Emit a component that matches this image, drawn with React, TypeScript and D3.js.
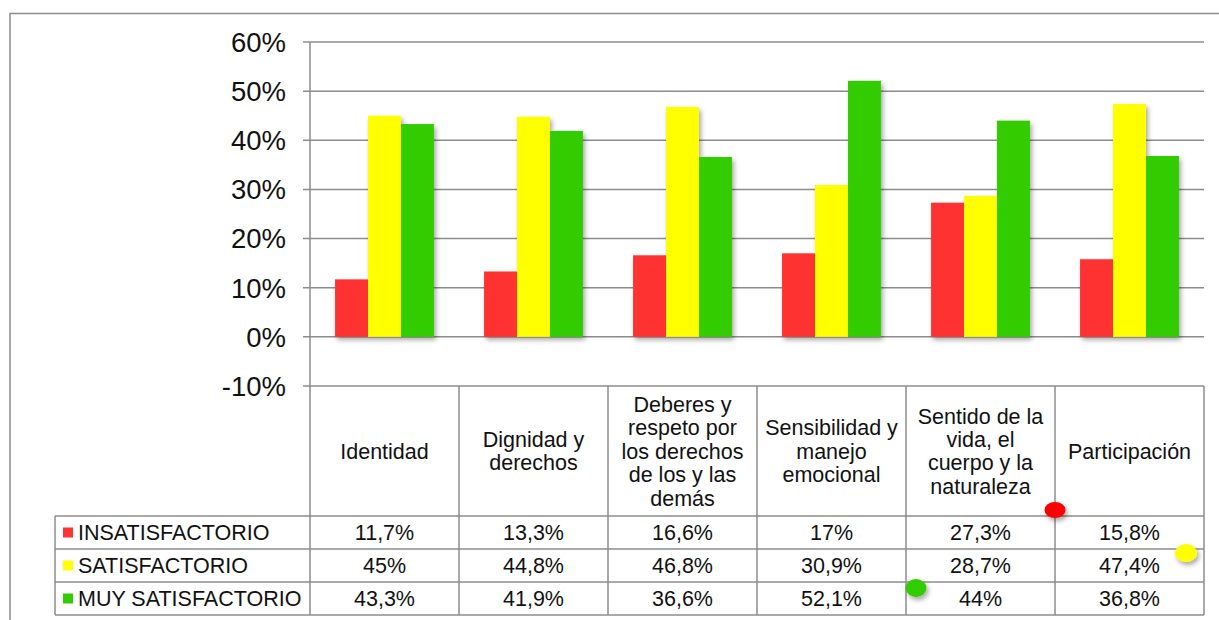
import { useEffect, useRef } from "react";
import * as d3 from "d3";

const categories = [
  "Identidad",
  "Dignidad y derechos",
  "Deberes y respeto por los derechos de los y las demás",
  "Sensibilidad y manejo emocional",
  "Sentido de la vida, el cuerpo y la naturaleza",
  "Participación",
];

// how each category label wraps inside its header cell
const categoryLines = [
  ["Identidad"],
  ["Dignidad y", "derechos"],
  ["Deberes y", "respeto por", "los derechos", "de los y las", "demás"],
  ["Sensibilidad y", "manejo", "emocional"],
  ["Sentido de la", "vida, el", "cuerpo y la", "naturaleza"],
  ["Participación"],
];

const seriesNames = ["INSATISFACTORIO", "SATISFACTORIO", "MUY SATISFACTORIO"];
const insatisfactorio = [11.7, 13.3, 16.6, 17, 27.3, 15.8];
const satisfactorio = [45, 44.8, 46.8, 30.9, 28.7, 47.4];
const muySatisfactorio = [43.3, 41.9, 36.6, 52.1, 44, 36.8];
const yTicks = [-10, 0, 10, 20, 30, 40, 50, 60];

const colors = ["#FF3333", "#FFFF00", "#33CC00"];
const gridColor = "#8c8c8c";
const font = "'Liberation Sans', Arial, sans-serif";

const App = () => {
  const ref = useRef<SVGSVGElement | null>(null);

  useEffect(() => {
    const width = 1219;
    const height = 620;
    const plot = { left: 310, right: 1204, top: 42, bottom: 386 };
    const table = { left: 55, headerBottom: 516, rowH: 33 };
    const series = [insatisfactorio, satisfactorio, muySatisfactorio];
    const tableFont = 21.5;

    const svg = d3.select(ref.current);
    svg.selectAll("*").remove();
    svg.attr("width", width).attr("height", height);

    const defs = svg.append("defs");
    const f = defs
      .append("filter")
      .attr("id", "shadow")
      .attr("x", "-20%")
      .attr("y", "-20%")
      .attr("width", "150%")
      .attr("height", "150%");
    f.append("feDropShadow")
      .attr("dx", 2)
      .attr("dy", 3)
      .attr("stdDeviation", 2.5)
      .attr("flood-color", "#000")
      .attr("flood-opacity", 0.35);

    // outer frame
    svg
      .append("path")
      .attr("d", `M10,${height} L10,13.5 L${width},13.5`)
      .attr("fill", "none")
      .attr("stroke", gridColor)
      .attr("stroke-width", 1.5);

    const x = d3
      .scaleBand<string>()
      .domain(categories)
      .range([plot.left, plot.right]);
    const xInner = d3
      .scaleBand<number>()
      .domain([0, 1, 2])
      .range([0, x.bandwidth()])
      .paddingOuter(0.76);
    const y = d3
      .scaleLinear()
      .domain([-10, 60])
      .range([plot.bottom, plot.top]);

    // gridlines with tick marks
    svg
      .append("g")
      .selectAll("line")
      .data(yTicks)
      .join("line")
      .attr("x1", plot.left - 7)
      .attr("x2", plot.right)
      .attr("y1", (d) => y(d))
      .attr("y2", (d) => y(d))
      .attr("stroke", gridColor)
      .attr("stroke-width", 1.5);

    svg
      .append("g")
      .selectAll("text")
      .data(yTicks)
      .join("text")
      .attr("x", plot.left - 24)
      .attr("y", (d) => y(d))
      .attr("dy", "0.36em")
      .attr("text-anchor", "end")
      .attr("font-family", font)
      .attr("font-size", 27.5)
      .attr("fill", "#111")
      .text((d) => `${d}%`);

    // bars
    const bars = svg.append("g").attr("filter", "url(#shadow)");
    series.forEach((vals, si) => {
      bars
        .append("g")
        .selectAll("rect")
        .data(vals)
        .join("rect")
        .attr("x", (_, i) => (x(categories[i]) ?? 0) + (xInner(si) ?? 0))
        .attr("width", xInner.bandwidth())
        .attr("y", (d) => y(d))
        .attr("height", (d) => y(0) - y(d))
        .attr("fill", colors[si]);
    });

    // data table
    const rowsTop = table.headerBottom;
    const tableBottom = rowsTop + table.rowH * 3;
    const lines = svg
      .append("g")
      .attr("stroke", gridColor)
      .attr("stroke-width", 1.5)
      .attr("fill", "none");
    lines
      .append("line")
      .attr("x1", plot.left)
      .attr("x2", plot.left)
      .attr("y1", plot.top)
      .attr("y2", tableBottom);
    x.domain().forEach((c) => {
      const xr = (x(c) ?? 0) + x.bandwidth();
      lines
        .append("line")
        .attr("x1", xr)
        .attr("x2", xr)
        .attr("y1", plot.bottom)
        .attr("y2", tableBottom);
    });
    [0, 1, 2, 3].forEach((r) => {
      lines
        .append("line")
        .attr("x1", table.left)
        .attr("x2", plot.right)
        .attr("y1", rowsTop + r * table.rowH)
        .attr("y2", rowsTop + r * table.rowH);
    });
    lines
      .append("line")
      .attr("x1", table.left)
      .attr("x2", table.left)
      .attr("y1", rowsTop)
      .attr("y2", tableBottom);

    // header cells
    const headerMid = (plot.bottom + rowsTop) / 2;
    const lh = 23.4;
    categoryLines.forEach((ls, i) => {
      const cx = (x(categories[i]) ?? 0) + x.bandwidth() / 2;
      const t = svg
        .append("text")
        .attr("text-anchor", "middle")
        .attr("font-family", font)
        .attr("font-size", tableFont)
        .attr("fill", "#111");
      ls.forEach((l, k) => {
        t.append("tspan")
          .attr("x", cx)
          .attr("y", headerMid + (k - (ls.length - 1) / 2) * lh)
          .attr("dy", "0.36em")
          .text(l);
      });
    });

    // value rows + legend keys
    const fmt = (v: number) => `${String(v).replace(".", ",")}%`;
    series.forEach((vals, si) => {
      const cy = rowsTop + table.rowH * si + table.rowH / 2;
      svg
        .append("rect")
        .attr("x", table.left + 8)
        .attr("y", cy - 5)
        .attr("width", 10)
        .attr("height", 10)
        .attr("fill", colors[si]);
      svg
        .append("text")
        .attr("x", table.left + 23)
        .attr("y", cy)
        .attr("dy", "0.36em")
        .attr("font-family", font)
        .attr("font-size", tableFont)
        .attr("fill", "#111")
        .text(seriesNames[si]);
      svg
        .append("g")
        .selectAll("text")
        .data(vals)
        .join("text")
        .attr("x", (_, i) => (x(categories[i]) ?? 0) + x.bandwidth() / 2)
        .attr("y", cy)
        .attr("dy", "0.36em")
        .attr("text-anchor", "middle")
        .attr("font-family", font)
        .attr("font-size", tableFont)
        .attr("fill", "#111")
        .text((d) => fmt(d));
    });

    // decorative dots
    const dots = [
      { cx: 1055, cy: 510, rx: 10.5, ry: 8, c: "#FF0000" },
      { cx: 1186, cy: 553, rx: 11, ry: 9, c: "#FFFF00" },
      { cx: 916, cy: 588, rx: 10.5, ry: 9, c: "#33CC00" },
    ];
    svg
      .append("g")
      .attr("filter", "url(#shadow)")
      .selectAll("ellipse")
      .data(dots)
      .join("ellipse")
      .attr("cx", (d) => d.cx)
      .attr("cy", (d) => d.cy)
      .attr("rx", (d) => d.rx)
      .attr("ry", (d) => d.ry)
      .attr("fill", (d) => d.c);
  }, []);

  return (
    <svg
      ref={ref}
      width={1219}
      height={620}
      style={{ position: "absolute", left: 0, top: 0, background: "#fff" }}
    ></svg>
  );
};

export default App;
